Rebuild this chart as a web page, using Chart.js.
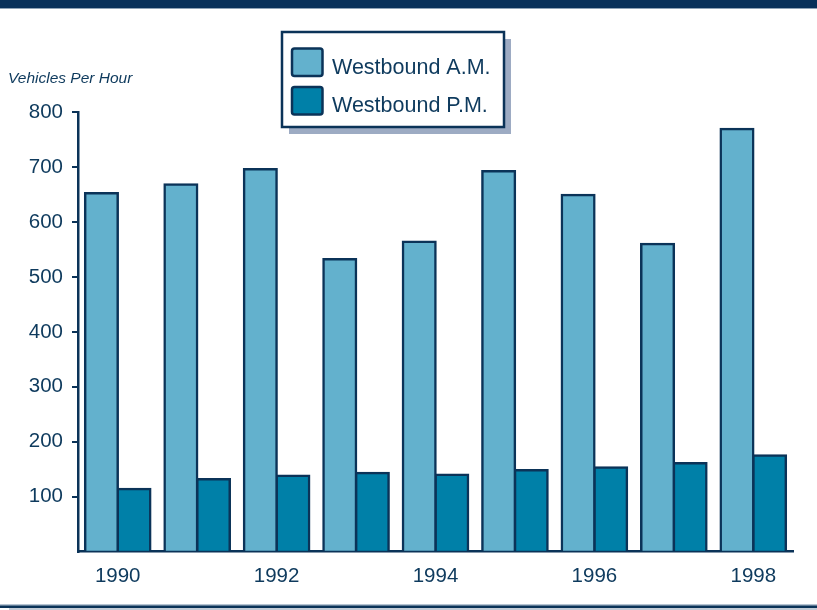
<!DOCTYPE html>
<html>
<head>
<meta charset="utf-8">
<title>Westbound Traffic Volumes</title>
<script src="https://cdn.jsdelivr.net/npm/chart.js@4.4.1/dist/chart.umd.min.js"></script>
<style>
  html, body { margin: 0; padding: 0; background: #ffffff; }
  #wrap { width: 817px; height: 610px; position: relative; }
</style>
</head>
<body>
<div id="wrap"><canvas id="chart"></canvas></div>
<script>
// Peak-hour volumes, vehicles per hour
const years = ['1990', '1991', '1992', '1993', '1994', '1995', '1996', '1997', '1998'];
const westboundAM = [652, 668, 696, 532, 564, 692, 649, 560, 769];
const westboundPM = [114, 132, 138, 143, 140, 148, 153, 161, 175];
const seriesNames = ['Westbound A.M.', 'Westbound P.M.'];
const yTicks = [100, 200, 300, 400, 500, 600, 700, 800];
const axisTitle = 'Vehicles Per Hour';

const NAVY = '#0b3358';
const TEXT = '#0e3a5d';
const LIGHT = '#63b1cd';
const DARK = '#0080a8';
const FONT = '"Liberation Sans", Arial, Helvetica, sans-serif';

// Page frame, axis caption and the boxed legend
const decorations = {
  id: 'decorations',
  beforeDraw(chart) {
    const ctx = chart.ctx;
    ctx.save();
    ctx.fillStyle = '#ffffff';
    ctx.fillRect(0, 0, chart.width, chart.height);
    // top band
    ctx.fillStyle = '#08305a';
    ctx.fillRect(0, 0, chart.width, 8);
    ctx.fillStyle = '#8ea2b7';
    ctx.fillRect(0, 8, chart.width, 1);
    // bottom rule
    ctx.fillStyle = '#6f8aa5';
    ctx.fillRect(0, 604.5, chart.width, 1);
    ctx.fillStyle = NAVY;
    ctx.fillRect(0, 605.5, chart.width, 2.5);
    ctx.fillStyle = '#c3cbd6';
    ctx.fillRect(9, 608, chart.width - 9, 2);
    ctx.restore();
  },
  afterDraw(chart) {
    const ctx = chart.ctx;
    ctx.save();
    // axis caption
    ctx.fillStyle = TEXT;
    ctx.font = 'italic 15.5px ' + FONT;
    ctx.textAlign = 'left';
    ctx.textBaseline = 'alphabetic';
    ctx.fillText(axisTitle, 8, 83);

    // legend frame with drop shadow
    const bx = 282, by = 32, bw = 222, bh = 95;
    ctx.fillStyle = '#9dabc3';
    ctx.fillRect(bx + 7, by + 7, bw, bh);
    ctx.fillStyle = '#ffffff';
    ctx.fillRect(bx, by, bw, bh);
    ctx.strokeStyle = NAVY;
    ctx.lineWidth = 2.5;
    ctx.strokeRect(bx, by, bw, bh);

    const rows = [{ y: 48.5, base: 73.5 }, { y: 87, base: 111.5 }];
    chart.data.datasets.forEach((ds, i) => {
      const r = rows[i];
      ctx.beginPath();
      ctx.roundRect(292, r.y, 30.5, 27.5, 2.5);
      ctx.fillStyle = ds.backgroundColor;
      ctx.fill();
      ctx.lineWidth = 2.5;
      ctx.strokeStyle = NAVY;
      ctx.stroke();
      ctx.fillStyle = TEXT;
      ctx.font = '21.5px ' + FONT;
      ctx.fillText(ds.label, 332, r.base);
    });
    ctx.restore();
  }
};

new Chart(document.getElementById('chart'), {
  type: 'bar',
  data: {
    labels: years,
    datasets: [
      {
        label: seriesNames[0],
        data: westboundAM,
        backgroundColor: LIGHT,
        borderColor: NAVY,
        borderWidth: 2.5,
        inflateAmount: 1.25,
        borderSkipped: 'start',
        categoryPercentage: 0.82,
        barPercentage: 1.0
      },
      {
        label: seriesNames[1],
        data: westboundPM,
        backgroundColor: DARK,
        borderColor: NAVY,
        borderWidth: 2.5,
        inflateAmount: 1.25,
        borderSkipped: 'start',
        categoryPercentage: 0.82,
        barPercentage: 1.0
      }
    ]
  },
  options: {
    responsive: true,
    maintainAspectRatio: false,
    animation: false,
    devicePixelRatio: 1,
    layout: { padding: { top: 112, right: 24, left: 0, bottom: 0 } },
    plugins: {
      legend: { display: false },
      title: { display: false },
      tooltip: { enabled: false }
    },
    scales: {
      x: {
        z: 1,
        offset: true,
        grid: { display: true, drawOnChartArea: false, drawTicks: false },
        border: { display: true, color: NAVY, width: 2.5 },
        ticks: {
          autoSkip: false,
          maxRotation: 0,
          minRotation: 0,
          padding: 12,
          color: TEXT,
          font: { family: FONT, size: 20.5 },
          callback: (value, index) => (index % 2 === 0 ? years[index] : '')
        },
        afterFit(scale) { scale.height = 58.3; }
      },
      y: {
        z: 1,
        min: 0,
        max: 800,
        afterBuildTicks(scale) {
          scale.ticks = [0].concat(yTicks).map(v => ({ value: v }));
        },
        grid: {
          drawOnChartArea: false,
          drawTicks: true,
          tickLength: 6,
          lineWidth: 2,
          color: (c) => (c.tick && c.tick.value === 0 ? 'rgba(0,0,0,0)' : NAVY)
        },
        border: { display: true, color: NAVY, width: 2.5 },
        ticks: {
          padding: 9,
          color: TEXT,
          font: { family: FONT, size: 20.5 },
          callback: (value) => (value === 0 ? '' : String(value))
        },
        afterFit(scale) { scale.width = 78; }
      }
    }
  },
  plugins: [decorations]
});
</script>
</body>
</html>
